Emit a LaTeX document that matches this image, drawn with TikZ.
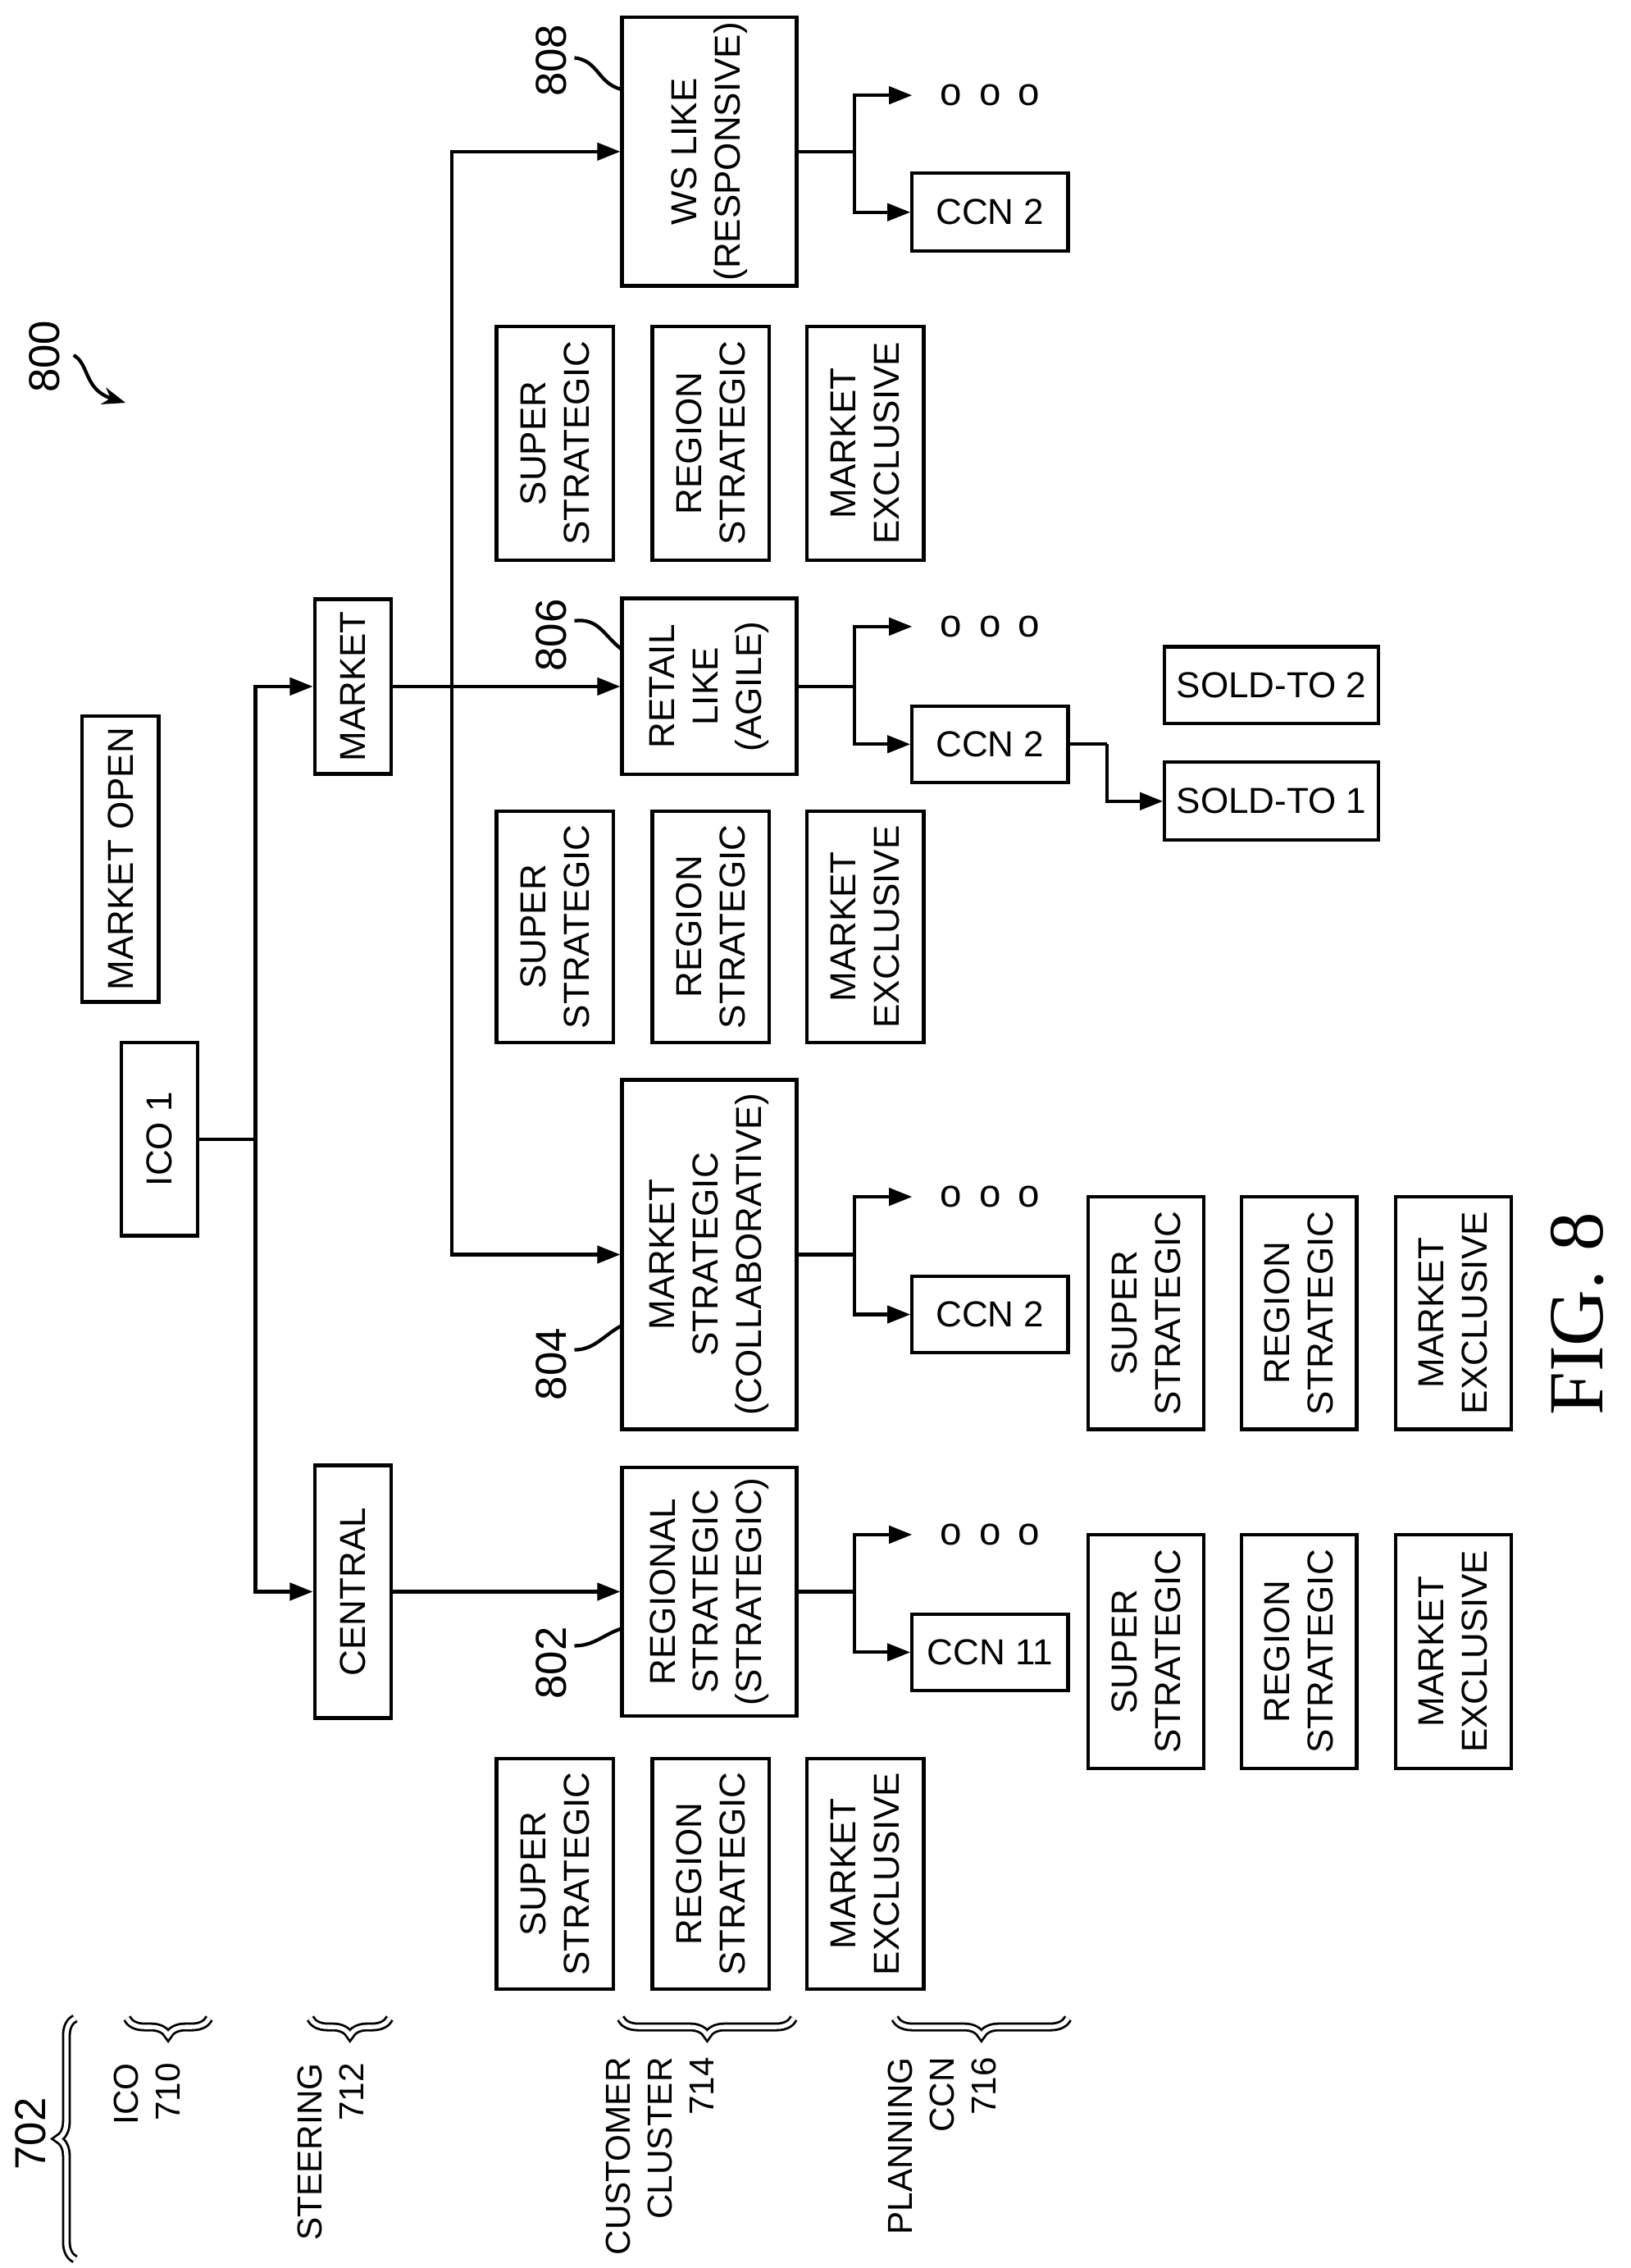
\documentclass[tikz,border=0pt]{standalone}
\usepackage{fontspec}
\setmainfont{Liberation Sans}
\newfontfamily\figfont{Liberation Serif}
\usetikzlibrary{decorations.pathreplacing,arrows.meta}
\begin{document}
\begin{tikzpicture}[x=0.5pt,y=0.5pt,line width=1.2pt,
  bx/.style={draw,rotate=90,inner sep=0pt,align=center,font=\fontsize{12.5}{15}\selectfont},
  hb/.style={draw,inner sep=0pt,align=center,font=\fontsize{12.5}{15}\selectfont},
  lb/.style={rotate=90,font=\fontsize{12}{14.5}\selectfont,inner sep=0pt},
  ar/.style={-{Triangle[length=8pt,width=6pt]}},
  br/.style={decorate,decoration={brace,amplitude=6pt},double,double distance=1.5pt,line width=0.8pt}]
\useasboundingbox (0,0) rectangle (1130,-1571);
\newcommand{\bxn}[6]{\node[bx,minimum width=#5*0.5pt,minimum height=#4*0.5pt] (#1) at (#2,-#3) {#6};}
\newcommand{\hbn}[6]{\node[hb,minimum width=#4*0.5pt,minimum height=#5*0.5pt] (#1) at (#2,-#3) {#6};}
% main boxes
\bxn{ico}{110.5}{789}{53}{134}{ICO 1}
\bxn{mopen}{83.5}{595}{53}{198}{MARKET OPEN}
\bxn{market}{244.5}{475.5}{53}{121}{MARKET}
\bxn{central}{244.5}{1102.5}{53}{175}{CENTRAL}
\bxn{ws}{491.5}{105}{121}{186}{WS LIKE\\(RESPONSIVE)}
\bxn{retail}{491.5}{475.5}{121}{122}{RETAIL\\LIKE\\(AGILE)}
\bxn{mstrat}{491.5}{869}{121}{242}{MARKET\\STRATEGIC\\(COLLABORATIVE)}
\bxn{rstrat}{491.5}{1102.5}{121}{172}{REGIONAL\\STRATEGIC\\(STRATEGIC)}
\hbn{ccnA}{686}{147}{108}{54}{CCN 2}
\hbn{ccnB}{686}{515.5}{108}{53}{CCN 2}
\hbn{ccnC}{686}{910.5}{108}{53}{CCN 2}
\hbn{ccnD}{686}{1144.5}{108}{53}{CCN 11}
\hbn{soldB}{881}{474.5}{148}{53}{SOLD-TO 2}
\hbn{soldA}{881}{555}{148}{54}{SOLD-TO 1}
% triples
\bxn{s1}{384.5}{307}{81}{162}{SUPER\\STRATEGIC}
\bxn{r1}{492.5}{307}{81}{162}{REGION\\STRATEGIC}
\bxn{m1}{599.5}{307}{81}{162}{MARKET\\EXCLUSIVE}
\bxn{s2}{384.5}{642}{81}{160}{SUPER\\STRATEGIC}
\bxn{r2}{492.5}{642}{81}{160}{REGION\\STRATEGIC}
\bxn{m2}{599.5}{642}{81}{160}{MARKET\\EXCLUSIVE}
\bxn{s3}{384.5}{1298}{81}{160}{SUPER\\STRATEGIC}
\bxn{r3}{492.5}{1298}{81}{160}{REGION\\STRATEGIC}
\bxn{m3}{599.5}{1298}{81}{160}{MARKET\\EXCLUSIVE}
\bxn{s4}{794}{909.5}{80}{161}{SUPER\\STRATEGIC}
\bxn{r4}{900}{909.5}{80}{161}{REGION\\STRATEGIC}
\bxn{m4}{1007}{909.5}{80}{161}{MARKET\\EXCLUSIVE}
\bxn{s5}{794}{1144}{80}{162}{SUPER\\STRATEGIC}
\bxn{r5}{900}{1144}{80}{162}{REGION\\STRATEGIC}
\bxn{m5}{1007}{1144}{80}{162}{MARKET\\EXCLUSIVE}
% dots
\foreach \n/\y in {dA/66,dB/434,dC/829,dD/1063}{
  \node[font=\fontsize{13.5}{15}\selectfont] (\n) at (686,-\y) {o\hspace{6pt}o\hspace{6pt}o};
  \coordinate (\n e) at (632,-\y);}
% trunk
\coordinate (t) at (177,-789);
\draw (ico.south) -- (t);
\draw[ar] (t) |- (market.north);
\draw[ar] (t) |- (central.north);
\draw[ar] (market.south) -- (retail.north);
\draw[ar] (central.south) -- (rstrat.north);
\coordinate (b) at (313,-475.5);
\draw[ar] (b) |- (ws.north);
\draw[ar] (b) |- (mstrat.north);
% forks
\foreach \bb/\d/\c in {ws/dA/ccnA,retail/dB/ccnB,mstrat/dC/ccnC,rstrat/dD/ccnD}{
  \coordinate (f\bb) at ([xshift=39*0.5pt]\bb.south);
  \draw (\bb.south) -- (f\bb);
  \draw[ar] (f\bb) |- (\d e);
  \draw[ar] (f\bb) |- (\c.west);}
\coordinate (sb) at ([xshift=26*0.5pt]ccnB.east);
\draw (ccnB.east) -- (sb);
\draw[ar] (sb) |- (soldA.west);
% reference labels
\node[lb,font=\fontsize{15}{17}\selectfont] (l800) at (31,-247) {800};
\draw[-{Stealth[length=8pt,width=6pt]}] (51,-246) .. controls (62,-252) and (58,-270) .. (87,-279);
\coordinate (c808) at (431,-62);
\node[lb,font=\fontsize{15}{17}\selectfont] (l808) at (382,-42) {808};
\draw (398,-40) .. controls (415,-42) and (414,-58) .. (c808);
\node[lb,font=\fontsize{15}{17}\selectfont] (l806) at (382,-440) {806};
\draw (398,-430) .. controls (415,-428) and (418,-440) .. (431,-450);
\node[lb,font=\fontsize{15}{17}\selectfont] (l804) at (382,-945) {804};
\draw (398,-935) .. controls (412,-935) and (418,-925) .. (431,-918);
\node[lb,font=\fontsize{15}{17}\selectfont] (l802) at (382,-1152) {802};
\draw (398,-1140) .. controls (412,-1140) and (418,-1132) .. (431,-1128);
\node[rotate=90,font=\figfont\fontsize{27}{30}\selectfont] (fig) at (1093,-910) {FIG. 8};
% legend
\node[lb,font=\fontsize{15}{17}\selectfont] (l702) at (21,-1478) {702};
\draw[br] (52,-1565) -- (52,-1398);
\node[lb,anchor=east,align=right] (lico) at (102,-1428) {ICO\\710};
\draw[br] (145,-1398) -- (88,-1398);
\node[lb,anchor=east,align=right] (lst) at (229,-1428) {STEERING\\712};
\draw[br] (270,-1398) -- (215,-1398);
\node[lb,anchor=east,align=right] (lcc) at (457,-1424) {CUSTOMER\\CLUSTER\\714};
\draw[br] (550,-1398) -- (430,-1398);
\node[lb,anchor=east,align=right] (lpl) at (653,-1424) {PLANNING\\CCN\\716};
\draw[br] (740,-1398) -- (620,-1398);
\end{tikzpicture}
\end{document}
